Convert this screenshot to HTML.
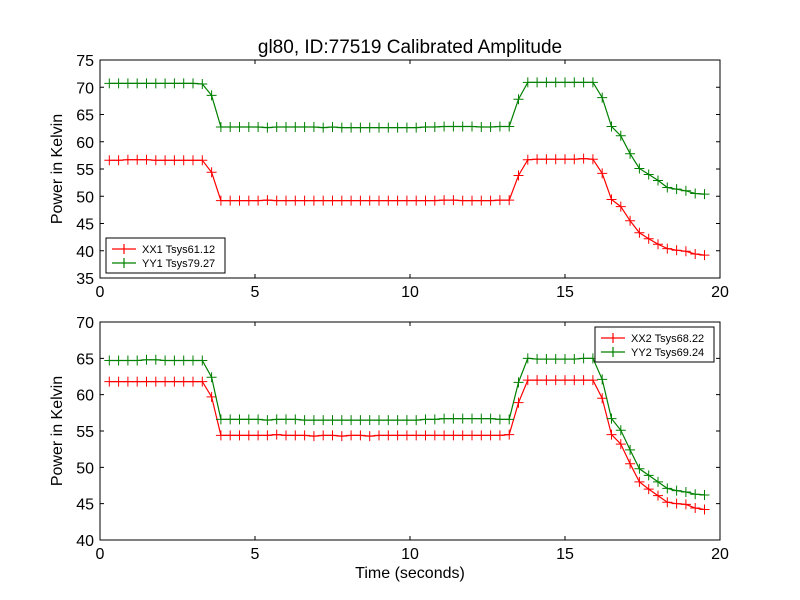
<!DOCTYPE html>
<html><head><meta charset="utf-8"><style>
html,body{margin:0;padding:0;background:#fff;}
svg{display:block;font-family:"Liberation Sans","DejaVu Sans",sans-serif;}
</style></head><body>
<svg id="chart" width="800" height="600" viewBox="0 0 800 600" xmlns="http://www.w3.org/2000/svg">
<rect width="800" height="600" fill="#fff"/>
<text x="410" y="53" font-size="19" text-anchor="middle">gl80, ID:77519 Calibrated Amplitude</text>
<g id="p1"></g>
<g id="p2"></g>
<text x="410" y="578" font-size="16" text-anchor="middle">Time (seconds)</text>
</svg>
<script>
const times=[0.3,0.6,0.9,1.2,1.5,1.8,2.1,2.4,2.7,3.0,3.3,3.6,3.9,4.2,4.5,4.8,5.1,5.4,5.7,6.0,6.3,6.6,6.9,7.2,7.5,7.8,8.1,8.4,8.7,9.0,9.3,9.6,9.9,10.2,10.5,10.8,11.1,11.4,11.7,12.0,12.3,12.6,12.9,13.2,13.5,13.8,14.1,14.4,14.7,15.0,15.3,15.6,15.9,16.2,16.5,16.8,17.1,17.4,17.7,18.0,18.3,18.6,18.9,19.2,19.5];
const xx1=[56.6,56.6,56.7,56.7,56.7,56.6,56.6,56.6,56.6,56.6,56.6,54.4,49.2,49.2,49.2,49.2,49.2,49.3,49.2,49.2,49.2,49.2,49.2,49.2,49.2,49.2,49.2,49.2,49.2,49.2,49.2,49.2,49.2,49.2,49.2,49.2,49.3,49.3,49.2,49.2,49.2,49.2,49.3,49.3,53.8,56.7,56.8,56.8,56.8,56.8,56.8,56.9,56.8,54.2,49.4,48.1,45.5,43.3,42.2,41.2,40.4,40.1,39.9,39.4,39.2];
const yy1=[70.7,70.7,70.7,70.7,70.7,70.7,70.7,70.7,70.7,70.7,70.6,68.5,62.7,62.7,62.7,62.7,62.7,62.6,62.7,62.7,62.7,62.7,62.7,62.6,62.7,62.6,62.6,62.6,62.6,62.6,62.6,62.6,62.6,62.6,62.7,62.7,62.8,62.8,62.8,62.8,62.7,62.7,62.8,62.8,67.8,70.9,70.9,70.9,70.9,70.9,70.9,70.9,70.9,68.1,62.8,61.1,57.8,55.1,54.0,52.9,51.6,51.3,51.0,50.5,50.4];
const xx2=[61.8,61.8,61.8,61.8,61.8,61.8,61.8,61.8,61.8,61.8,61.8,59.7,54.4,54.4,54.4,54.4,54.4,54.4,54.5,54.4,54.4,54.4,54.3,54.4,54.4,54.3,54.4,54.4,54.3,54.4,54.4,54.4,54.4,54.4,54.4,54.4,54.4,54.4,54.4,54.4,54.4,54.4,54.4,54.5,58.9,62.0,62.0,62.0,62.0,62.0,62.0,62.0,62.0,59.5,54.5,53.2,50.5,48.0,47.0,46.1,45.2,45.0,44.9,44.4,44.2];
const yy2=[64.7,64.7,64.7,64.7,64.8,64.8,64.7,64.7,64.7,64.7,64.7,62.4,56.6,56.6,56.6,56.6,56.6,56.5,56.6,56.6,56.6,56.5,56.5,56.5,56.5,56.5,56.5,56.5,56.5,56.5,56.5,56.5,56.5,56.5,56.6,56.6,56.7,56.7,56.7,56.7,56.7,56.7,56.6,56.6,61.7,65.0,64.9,64.9,64.9,64.9,64.9,65.0,65.0,62.1,56.7,55.1,52.4,49.8,48.9,48.0,47.1,46.8,46.6,46.3,46.2];
const xTicks=[0,5,10,15,20];
const yTicks1=[35,40,45,50,55,60,65,70,75];
const yTicks2=[40,45,50,55,60,65,70];
const NS="http://www.w3.org/2000/svg";
function mk(tag,attrs,parent){const e=document.createElementNS(NS,tag);for(const k in attrs)e.setAttribute(k,attrs[k]);parent.appendChild(e);return e;}
function panel(g,top,bot,ymin,ymax,yTicks,series,legend,id){
  const L=100,R=720;
  const sx=v=>L+(v-0)/(20-0)*(R-L);
  const sy=v=>bot-(v-ymin)/(ymax-ymin)*(bot-top);
  for(const s of series){
    const pts=times.map((t,i)=>sx(t).toFixed(1)+","+sy(s.vals[i]).toFixed(1)).join(" ");
    const pl=mk("polyline",{points:pts,fill:"none",stroke:s.color,"stroke-width":1.2},g);
    
    
    times.forEach((t,i)=>{
      const x=sx(t),y=sy(s.vals[i]);
      const p=mk("path",{d:`M${x-5},${y}H${x+5}M${x},${y-5}V${y+5}`,stroke:s.color,"stroke-width":1},g);
      
      
    });
  }
  const fr=mk("rect",{x:L,y:top,width:R-L,height:bot-top,fill:"none",stroke:"#000","stroke-width":1},g);
  
  
  for(const t of xTicks){
    const x=sx(t);
    mk("path",{d:`M${x},${bot}v-4M${x},${top}v4`,stroke:"#000"},g);
    const tx=mk("text",{x:x,y:bot+19,"font-size":16,"text-anchor":"middle"},g);
    tx.textContent=t;
    
    
  }
  for(const t of yTicks){
    const y=sy(t);
    mk("path",{d:`M${L},${y}h4M${R},${y}h-4`,stroke:"#000"},g);
    const tx=mk("text",{x:L-6,y:y+6,"font-size":16,"text-anchor":"end"},g);
    tx.textContent=t;
    
    
  }
  const yt=mk("text",{x:0,y:0,"font-size":16,"text-anchor":"middle",transform:`translate(68,${(top+bot)/2}) rotate(-90)`},g);
  yt.setAttribute('transform',`translate(68,${(top+bot)/2}) rotate(-90)`.replace('68','68'));
  yt.setAttribute('transform',`translate(68,${(top+bot)/2}) rotate(-90)`);
  yt.setAttribute('transform',`translate(${62+6-6},${(top+bot)/2}) rotate(-90)`);
  yt.textContent="Power in Kelvin";
  
  
  const lg=mk("g",{},g);
  
  
  mk("rect",{x:legend.x,y:legend.y,width:119,height:35,fill:"#fff",stroke:"#000","stroke-width":1},lg);
  series.forEach((s,i)=>{
    const y=legend.y+11+i*14;
    mk("path",{d:`M${legend.x+6},${y}h24M${legend.x+18},${y-5}v10`,stroke:s.color,"stroke-width":1.2},lg);
    const tx=mk("text",{x:legend.x+36,y:y+4,"font-size":11},lg);
    tx.textContent=s.label;
    
    
  });
}
panel(document.getElementById('p1'),60,278,35,75,yTicks1,[{name:'xx1',vals:xx1,color:'#ff0000',label:'XX1 Tsys61.12'},{name:'yy1',vals:yy1,color:'#008000',label:'YY1 Tsys79.27'}],{x:106,y:238},'top');
panel(document.getElementById('p2'),322,540,40,70,yTicks2,[{name:'xx2',vals:xx2,color:'#ff0000',label:'XX2 Tsys68.22'},{name:'yy2',vals:yy2,color:'#008000',label:'YY2 Tsys69.24'}],{x:595,y:327},'bottom');
</script>
</body></html>
